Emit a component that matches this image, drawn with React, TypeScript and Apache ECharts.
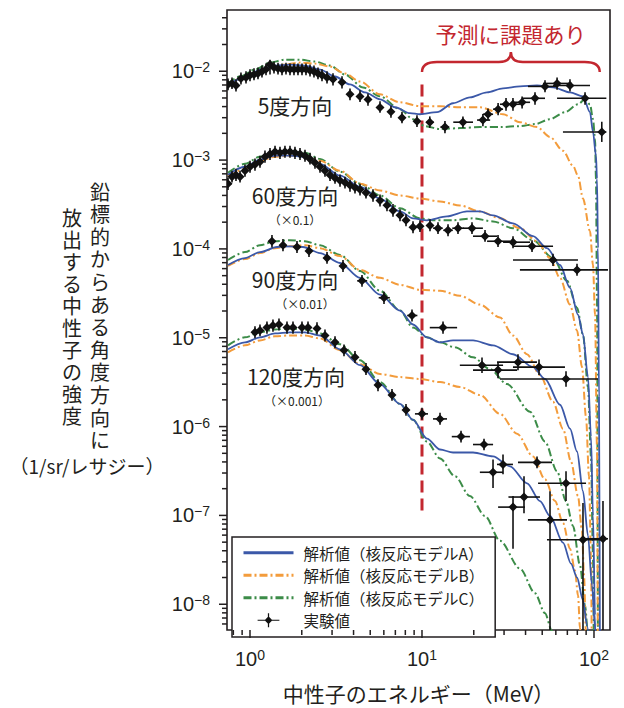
import React, { useEffect, useRef } from "react";
import * as echarts from "echarts";

type Pt = [number, number];
type ErrPt = [number, number, number, number, number, number]; // E, I, Elo, Ehi, Ilo, Ihi

// ---------- axis ranges / ticks ----------
const X_RANGE: Pt = [0.735, 123.9]; // MeV
const Y_RANGE: Pt = [5.13e-9, 4.89e-2];
const xTickExponents = [0, 1, 2];
const yTickExponents = [-8, -7, -6, -5, -4, -3, -2];
const minorTickMultipliers = [2, 3, 4, 5, 6, 7, 8, 9];

// ---------- texts ----------
const modelNames = ["解析値（核反応モデルA）", "解析値（核反応モデルB）", "解析値（核反応モデルC）"];
const expName = "実験値";
const groupLabels = ["5度方向", "60度方向", "90度方向", "120度方向"];
const scaleLabels = ["（×0.1）", "（×0.01）", "（×0.001）"];
const axisTitleX = "中性子のエネルギー（MeV）";
const axisTitleY1 = "鉛標的からある角度方向に";
const axisTitleY2 = "放出する中性子の強度";
const axisTitleY3 = "（1/sr/レサジー）";
const annotationText = "予測に課題あり";
const cutoffEnergy = 10;
const cutoffSpan: Pt = [7.1e-3, 1e-7];
const bracketSpan: Pt = [10, 108];

// ---------- model A (blue) ----------
const modelA_5deg: Pt[] = [
  [0.745, 7.1e-3], [0.875, 8.08e-3], [1.0, 9.19e-3], [1.143, 1.045e-2], [1.398, 1.158e-2], [1.708, 1.188e-2],
  [2.088, 1.158e-2], [2.553, 1.045e-2], [3.121, 8.73e-3], [3.814, 7.1e-3], [4.663, 5.78e-3], [5.7, 4.83e-3],
  [6.966, 3.93e-3], [8.515, 3.37e-3], [9.737, 3.28e-3], [12.23, 3.46e-3], [15.15, 4.36e-3], [19.01, 5.08e-3],
  [23.87, 5.78e-3], [29.58, 6.41e-3], [37.14, 6.75e-3], [46.64, 6.92e-3], [57.78, 6.58e-3], [72.53, 5.78e-3],
  [86.3, 5.22e-3], [94.78, 3.46e-3], [98.67, 2.07e-3], [102.7, 1.12e-3], [104.1, 6.17e-4], [105.5, 1.02e-4],
  [106.9, 2.16e-6], [108.4, 1e-9],
];
const modelA_60deg: Pt[] = [
  [0.745, 6.84e-4], [0.935, 8.41e-4], [1.143, 1.01e-3], [1.398, 1.12e-3], [1.708, 1.12e-3], [2.033, 1.09e-3],
  [2.553, 9.08e-4], [3.337, 6.67e-4], [4.361, 5.03e-4], [5.7, 3.69e-4], [7.45, 2.64e-4], [8.867, 2.21e-4],
  [10.69, 2.1e-4], [13.98, 2.32e-4], [18.26, 2.64e-4], [21.74, 2.64e-4], [25.88, 2.38e-4], [33.82, 1.94e-4],
  [44.21, 1.39e-4], [53.3, 1.02e-4], [63.44, 6.59e-5], [72.53, 3.65e-5], [80.73, 1.82e-5], [86.3, 1.09e-5],
  [92.29, 3.61e-6], [96.07, 7.71e-7], [98.67, 9.86e-8], [101.4, 7.54e-9], [102.7, 1e-9],
];
const modelA_90deg: Pt[] = [
  [0.745, 6.59e-5], [0.935, 7.89e-5], [1.143, 9.21e-5], [1.435, 1.05e-4], [1.708, 1.07e-4], [2.033, 1.05e-4],
  [2.553, 8.98e-5], [3.337, 6.94e-5], [4.361, 4.72e-5], [5.7, 3.05e-5], [7.45, 2.02e-5], [8.867, 1.41e-5],
  [10.69, 1.01e-5], [12.73, 8.87e-6], [15.15, 9.34e-6], [19.8, 9.34e-6], [25.88, 8.21e-6], [33.82, 6.52e-6],
  [44.21, 4.67e-6], [51.89, 3.43e-6], [63.44, 1.76e-6], [72.53, 9.47e-7], [79.66, 5.24e-7], [86.3, 1.87e-7],
  [92.29, 5.9e-8], [97.37, 1.63e-8], [101.4, 5.39e-9], [104.1, 1e-9],
];
const modelA_120deg: Pt[] = [
  [0.745, 7.41e-6], [0.935, 8.87e-6], [1.143, 1.01e-5], [1.398, 1.12e-5], [1.708, 1.15e-5], [2.088, 1.15e-5],
  [2.553, 1.06e-5], [3.337, 7.41e-6], [4.361, 4.91e-6], [5.7, 3.01e-6], [7.45, 1.8e-6], [8.867, 1.19e-6],
  [10.69, 7.32e-7], [12.73, 5.52e-7], [15.15, 5.11e-7], [19.8, 5.11e-7], [25.88, 4.61e-7], [32.48, 3.57e-7],
  [40.79, 2.3e-7], [48.53, 1.45e-7], [55.5, 9.86e-8], [66.04, 4.93e-8], [73.5, 2.87e-8], [79.66, 2.0e-8],
  [86.3, 1.11e-8], [91.08, 5.83e-9], [94.78, 2.7e-9],
];

// ---------- model B (orange) ----------
const modelB_5deg: Pt[] = [
  [0.745, 6.92e-3], [0.875, 8.08e-3], [1.069, 9.67e-3], [1.307, 1.1e-2], [1.597, 1.188e-2], [1.953, 1.251e-2],
  [2.387, 1.219e-2], [2.919, 1.128e-2], [3.567, 9.43e-3], [4.361, 7.67e-3], [5.7, 5.49e-3], [7.45, 4.47e-3],
  [9.737, 4.04e-3], [12.73, 4.04e-3], [16.63, 3.93e-3], [21.74, 3.93e-3], [29.58, 3.28e-3], [37.14, 2.67e-3],
  [46.64, 2.35e-3], [55.5, 1.82e-3], [66.04, 1.27e-3], [75.51, 8.63e-4], [80.73, 6.67e-4], [86.3, 3.69e-4],
  [94.78, 1.58e-4], [98.67, 6.59e-5], [101.4, 1.82e-5], [104.1, 5.97e-7], [105.5, 1e-9],
];
const modelB_60deg: Pt[] = [
  [0.745, 6.5e-4], [0.935, 7.99e-4], [1.143, 9.81e-4], [1.398, 1.09e-3], [1.708, 1.12e-3], [2.088, 1.12e-3],
  [2.553, 9.81e-4], [3.337, 7.59e-4], [4.361, 5.43e-4], [5.7, 4.54e-4], [7.45, 3.99e-4], [9.737, 3.69e-4],
  [12.73, 3.42e-4], [16.63, 3.08e-4], [21.74, 2.64e-4], [28.41, 2.21e-4], [37.14, 1.71e-4], [46.64, 1.22e-4],
  [55.5, 7.89e-5], [63.44, 4.72e-5], [72.53, 2.36e-5], [79.66, 1.21e-5], [85.17, 4.67e-6], [89.85, 1.29e-6],
  [93.53, 2.76e-7], [96.07, 3.52e-8], [97.37, 1e-9],
];
const modelB_90deg: Pt[] = [
  [0.745, 6.43e-5], [0.935, 7.69e-5], [1.143, 8.98e-5], [1.398, 1.02e-4], [1.708, 1.07e-4], [2.088, 1.1e-4],
  [2.553, 1.02e-4], [3.337, 8.31e-5], [4.361, 5.8e-5], [5.7, 4.72e-5], [7.45, 3.94e-5], [9.737, 3.47e-5],
  [12.73, 3.38e-5], [16.63, 2.97e-5], [21.74, 2.36e-5], [28.41, 1.69e-5], [33.82, 1.06e-5], [40.79, 6.52e-6],
  [48.53, 3.8e-6], [57.78, 1.9e-6], [66.04, 9.47e-7], [73.5, 4.05e-7], [80.73, 1.65e-7], [85.17, 6.7e-8],
  [87.5, 2.11e-8], [89.85, 4.6e-9], [91.08, 1e-9],
];
const modelB_120deg: Pt[] = [
  [0.745, 6.86e-6], [0.935, 8.21e-6], [1.143, 9.34e-6], [1.398, 1.04e-5], [1.708, 1.06e-5], [2.088, 1.06e-5],
  [2.553, 9.83e-6], [3.337, 7.22e-6], [4.361, 5.04e-6], [5.7, 3.9e-6], [7.45, 3.61e-6], [9.737, 3.43e-6],
  [12.73, 3.17e-6], [16.63, 2.79e-6], [21.74, 2.27e-6], [28.41, 1.39e-6], [35.68, 8.33e-7], [44.21, 4.61e-7],
  [51.89, 2.55e-7], [59.34, 1.45e-7], [66.04, 8.24e-8], [72.53, 4.22e-8], [77.55, 2.4e-8], [80.73, 1.26e-8],
  [82.93, 5.39e-9], [84.0, 2.0e-9],
];

// ---------- model C (green) ----------
const modelC_5deg: Pt[] = [
  [0.745, 7.29e-3], [0.875, 8.73e-3], [1.069, 1.045e-2], [1.307, 1.251e-2], [1.597, 1.351e-2], [1.953, 1.351e-2],
  [2.387, 1.283e-2], [2.919, 1.158e-2], [3.567, 9.19e-3], [4.539, 6.58e-3], [5.7, 5.22e-3], [7.45, 3.74e-3],
  [8.867, 2.89e-3], [10.41, 2.41e-3], [12.73, 2.23e-3], [16.63, 2.29e-3], [21.74, 2.35e-3], [28.41, 2.35e-3],
  [37.14, 2.41e-3], [45.4, 2.54e-3], [55.5, 2.89e-3], [67.83, 3.46e-3], [80.73, 4.25e-3], [88.66, 4.83e-3],
  [94.78, 4.25e-3], [98.67, 2.89e-3], [101.4, 1.73e-3], [102.7, 6.17e-4], [104.1, 2.82e-5], [105.5, 1e-9],
];
const modelC_60deg: Pt[] = [
  [0.745, 7.2e-4], [0.935, 9.08e-4], [1.143, 1.09e-3], [1.398, 1.21e-3], [1.708, 1.24e-3], [2.088, 1.21e-3],
  [2.553, 1.03e-3], [3.337, 7.39e-4], [4.361, 5.43e-4], [5.7, 3.99e-4], [7.45, 2.86e-4], [9.737, 2.21e-4],
  [11.59, 2.1e-4], [15.15, 2.1e-4], [19.8, 2.21e-4], [25.88, 2.04e-4], [33.82, 1.71e-4], [44.21, 1.25e-4],
  [57.78, 7.89e-5], [69.68, 4.37e-5], [79.66, 2.18e-5], [86.3, 1.09e-5], [92.29, 2.79e-6], [96.07, 4.61e-7],
  [98.67, 3.52e-8], [100.0, 1e-9],
];
const modelC_90deg: Pt[] = [
  [0.745, 7.5e-5], [0.935, 9.21e-5], [1.143, 1.1e-4], [1.398, 1.22e-4], [1.708, 1.25e-4], [2.088, 1.22e-4],
  [2.553, 1.1e-4], [3.337, 8.53e-5], [4.361, 5.65e-5], [5.7, 3.38e-5], [7.45, 2.02e-5], [8.867, 1.3e-5],
  [10.69, 1.01e-5], [12.73, 8.87e-6], [15.55, 7.8e-6], [19.8, 6.03e-6], [24.86, 4.43e-6], [31.21, 3.01e-6],
  [42.46, 1.47e-6], [51.89, 6.78e-7], [60.95, 3.14e-7], [68.76, 1.45e-7], [75.51, 7.62e-8], [82.93, 2.73e-8],
  [88.66, 9.74e-9], [92.29, 4.6e-9], [94.78, 1e-9],
];
const modelC_120deg: Pt[] = [
  [0.745, 8.21e-6], [0.935, 1.01e-5], [1.143, 1.15e-5], [1.398, 1.24e-5], [1.708, 1.27e-5], [2.088, 1.24e-5],
  [2.553, 1.12e-5], [3.337, 8.43e-6], [4.361, 5.59e-6], [5.7, 3.17e-6], [7.45, 1.8e-6], [8.867, 1.19e-6],
  [10.69, 6.78e-7], [12.73, 4.38e-7], [15.55, 2.76e-7], [19.01, 1.65e-7], [23.25, 9.86e-8], [28.41, 5.18e-8],
  [37.14, 2.52e-8], [45.4, 1.33e-8], [51.89, 7.93e-9], [57.0, 4.99e-9], [60.95, 3.3e-9],
];

// ---------- measurements: [E, I, Elo, Ehi, Ilo, Ihi] ----------
const exp5deg: ErrPt[] = [
  [0.745, 7.1e-3, 0.72, 0.78, 6.1e-3, 8.3e-3], [0.786, 7.3e-3, 0.76, 0.82, 6.3e-3, 8.5e-3],
  [0.829, 6.9e-3, 0.8, 0.86, 5.9e-3, 8.1e-3], [0.886, 8.3e-3, 0.85, 0.92, 7.1e-3, 9.7e-3],
  [0.948, 8.5e-3, 0.91, 0.99, 7.3e-3, 1.0e-2], [1.0, 9.0e-3, 0.96, 1.04, 7.7e-3, 1.05e-2],
  [1.055, 9.2e-3, 1.01, 1.1, 7.9e-3, 1.08e-2], [1.113, 9.4e-3, 1.07, 1.16, 8.1e-3, 1.1e-2],
  [1.174, 9.9e-3, 1.13, 1.22, 8.5e-3, 1.16e-2], [1.239, 1.05e-2, 1.19, 1.29, 9.0e-3, 1.22e-2],
  [1.307, 1.19e-2, 1.26, 1.36, 9.2e-3, 1.35e-2], [1.379, 1.1e-2, 1.33, 1.43, 9.4e-3, 1.29e-2],
  [1.455, 1.07e-2, 1.4, 1.51, 9.2e-3, 1.25e-2], [1.535, 1.05e-2, 1.48, 1.6, 9.0e-3, 1.22e-2],
  [1.619, 1.07e-2, 1.56, 1.68, 9.2e-3, 1.25e-2], [1.708, 1.05e-2, 1.64, 1.78, 9.0e-3, 1.22e-2],
  [1.802, 1.05e-2, 1.73, 1.87, 9.0e-3, 1.22e-2], [1.901, 1.05e-2, 1.83, 1.98, 9.0e-3, 1.22e-2],
  [2.006, 1.05e-2, 1.93, 2.09, 9.0e-3, 1.22e-2], [2.116, 1.05e-2, 2.03, 2.2, 9.0e-3, 1.22e-2],
  [2.233, 1.02e-2, 2.15, 2.32, 8.7e-3, 1.19e-2], [2.355, 9.9e-3, 2.26, 2.45, 8.5e-3, 1.16e-2],
  [2.485, 9.4e-3, 2.39, 2.58, 8.1e-3, 1.1e-2], [2.622, 9.0e-3, 2.52, 2.73, 7.7e-3, 1.05e-2],
  [2.804, 8.5e-3, 2.69, 2.92, 7.3e-3, 1.0e-2], [3.038, 8.1e-3, 2.92, 3.16, 6.9e-3, 9.5e-3],
  [3.427, 7.5e-3, 3.29, 3.56, 6.4e-3, 8.8e-3], [3.814, 5.5e-3, 3.66, 3.97, 4.7e-3, 6.4e-3],
  [4.361, 5.2e-3, 4.19, 4.54, 4.5e-3, 6.1e-3], [4.853, 4.8e-3, 4.66, 5.05, 4.1e-3, 5.6e-3],
  [5.7, 3.9e-3, 5.47, 5.93, 3.4e-3, 4.6e-3], [6.6, 3.5e-3, 6.34, 6.87, 3.0e-3, 4.1e-3],
  [7.65, 3.0e-3, 7.34, 7.96, 2.6e-3, 3.5e-3], [9.35, 2.74e-3, 8.98, 9.73, 2.35e-3, 3.2e-3],
  [11.1, 2.67e-3, 10.6, 11.7, 2.3e-3, 3.1e-3], [13.6, 2.35e-3, 12.8, 14.4, 2.0e-3, 2.75e-3],
  [17.3, 2.67e-3, 15.2, 19.8, 2.3e-3, 3.1e-3], [22.6, 2.82e-3, 20.9, 24.9, 2.4e-3, 3.3e-3],
  [24.2, 3.28e-3, 22.6, 25.9, 2.8e-3, 3.8e-3], [27.7, 3.74e-3, 25.9, 29.6, 3.2e-3, 4.4e-3],
  [30.8, 4.25e-3, 28.4, 33.8, 3.6e-3, 5.0e-3], [33.8, 4.25e-3, 31.2, 37.1, 3.6e-3, 5.0e-3],
  [38.2, 4.47e-3, 34.7, 42.5, 3.8e-3, 5.2e-3], [45.4, 4.96e-3, 38.2, 51.9, 4.2e-3, 5.8e-3],
  [51.9, 6.75e-3, 41.3, 61.0, 5.8e-3, 7.9e-3], [61.0, 7.29e-3, 50.5, 74.5, 6.2e-3, 8.5e-3],
  [72.5, 6.92e-3, 57.8, 94.8, 5.9e-3, 8.1e-3], [88.7, 4.96e-3, 61.0, 118, 4.2e-3, 5.8e-3],
  [111, 2.07e-3, 66.0, 118, 1.6e-3, 2.7e-3],
];
const exp60deg: ErrPt[] = [
  [0.745, 5.4e-4, 0.72, 0.78, 4.6e-4, 6.3e-4], [0.786, 6.5e-4, 0.76, 0.82, 5.6e-4, 7.6e-4],
  [0.829, 6.8e-4, 0.8, 0.86, 5.8e-4, 8.0e-4], [0.875, 6.5e-4, 0.84, 0.91, 5.6e-4, 7.6e-4],
  [0.935, 7.6e-4, 0.9, 0.97, 6.5e-4, 8.9e-4], [1.0, 8.4e-4, 0.96, 1.04, 7.2e-4, 9.8e-4],
  [1.069, 8.9e-4, 1.03, 1.11, 7.6e-4, 1.04e-3], [1.143, 9.6e-4, 1.1, 1.19, 8.2e-4, 1.12e-3],
  [1.222, 1.09e-3, 1.17, 1.27, 9.3e-4, 1.28e-3], [1.307, 1.17e-3, 1.26, 1.36, 1.0e-3, 1.37e-3],
  [1.398, 1.24e-3, 1.34, 1.45, 1.06e-3, 1.45e-3], [1.494, 1.21e-3, 1.43, 1.55, 1.03e-3, 1.41e-3],
  [1.597, 1.24e-3, 1.53, 1.66, 1.06e-3, 1.45e-3], [1.708, 1.24e-3, 1.64, 1.78, 1.06e-3, 1.45e-3],
  [1.826, 1.21e-3, 1.75, 1.9, 1.03e-3, 1.41e-3], [1.953, 1.17e-3, 1.87, 2.03, 1.0e-3, 1.37e-3],
  [2.088, 1.12e-3, 2.0, 2.17, 9.6e-4, 1.31e-3], [2.233, 1.03e-3, 2.14, 2.32, 8.9e-4, 1.21e-3],
  [2.387, 9.3e-4, 2.29, 2.48, 8.0e-4, 1.09e-3], [2.553, 8.4e-4, 2.45, 2.66, 7.2e-4, 9.8e-4],
  [2.729, 7.6e-4, 2.62, 2.84, 6.5e-4, 8.9e-4], [2.919, 6.8e-4, 2.8, 3.04, 5.8e-4, 8.0e-4],
  [3.121, 6.3e-4, 3.0, 3.25, 5.4e-4, 7.4e-4], [3.337, 5.9e-4, 3.2, 3.47, 5.0e-4, 6.9e-4],
  [3.567, 5.6e-4, 3.42, 3.71, 4.8e-4, 6.5e-4], [3.814, 5.2e-4, 3.66, 3.97, 4.4e-4, 6.0e-4],
  [4.078, 4.9e-4, 3.91, 4.24, 4.2e-4, 5.7e-4], [4.361, 4.65e-4, 4.19, 4.54, 4.0e-4, 5.4e-4],
  [4.725, 4.3e-4, 4.54, 4.91, 3.7e-4, 5.0e-4], [5.19, 4.0e-4, 4.98, 5.4, 3.4e-4, 4.7e-4],
  [5.7, 3.5e-4, 5.47, 5.93, 3.0e-4, 4.1e-4], [6.259, 3.1e-4, 6.01, 6.51, 2.65e-4, 3.6e-4],
  [6.783, 2.7e-4, 6.51, 7.05, 2.3e-4, 3.2e-4], [7.45, 2.4e-4, 7.15, 7.75, 2.05e-4, 2.8e-4],
  [8.072, 2.1e-4, 7.75, 8.39, 1.8e-4, 2.46e-4], [8.867, 1.75e-4, 8.51, 9.22, 1.5e-4, 2.05e-4],
  [9.737, 1.8e-4, 9.35, 10.1, 1.55e-4, 2.1e-4], [11.13, 1.84e-4, 10.7, 11.6, 1.58e-4, 2.15e-4],
  [12.39, 1.71e-4, 11.6, 13.2, 1.47e-4, 2.0e-4], [14.17, 1.62e-4, 13.3, 15.1, 1.39e-4, 1.9e-4],
  [16.19, 1.71e-4, 15.0, 17.5, 1.47e-4, 2.0e-4], [19.53, 1.71e-4, 17.3, 22.6, 1.47e-4, 2.0e-4],
  [23.25, 1.39e-4, 19.8, 27.3, 1.2e-4, 1.63e-4], [27.67, 1.22e-4, 23.9, 32.5, 1.05e-4, 1.43e-4],
  [33.82, 1.19e-4, 29.6, 42.5, 1.02e-4, 1.39e-4], [43.62, 1.07e-4, 33.8, 57.8, 9.2e-5, 1.25e-4],
  [57.78, 7.5e-5, 33.8, 80.7, 6.4e-5, 8.8e-5], [79.66, 5.8e-5, 37.1, 120.6, 5.0e-5, 6.8e-5],
];
const exp90deg: ErrPt[] = [
  [1.342, 1.22e-4, 1.29, 1.39, 1.04e-4, 1.43e-4], [1.555, 1.1e-4, 1.49, 1.62, 9.4e-5, 1.29e-4],
  [1.876, 1.05e-4, 1.8, 1.95, 9.0e-5, 1.23e-4], [2.203, 9.45e-5, 2.12, 2.29, 8.1e-5, 1.11e-4],
  [2.804, 7.89e-5, 2.69, 2.92, 6.8e-5, 9.2e-5], [3.473, 6.43e-5, 3.33, 3.61, 5.5e-5, 7.5e-5],
  [4.479, 4.37e-5, 4.2, 4.8, 3.75e-5, 5.1e-5], [6.013, 2.82e-5, 5.6, 6.5, 2.4e-5, 3.3e-5],
  [8.747, 1.78e-5, 8.2, 9.4, 1.52e-5, 2.08e-5], [13.25, 1.3e-5, 11.1, 16.0, 1.11e-5, 1.52e-5],
  [22.33, 4.91e-6, 16.6, 29.6, 4.0e-6, 6.0e-6], [27.67, 4.32e-6, 19.8, 35.7, 3.5e-6, 5.3e-6],
  [36.15, 5.31e-6, 27.3, 46.6, 4.3e-6, 6.5e-6], [47.9, 4.67e-6, 33.8, 67.8, 3.8e-6, 5.7e-6],
  [68.76, 3.43e-6, 28.4, 105.5, 2.8e-6, 4.2e-6],
];
const exp120deg: ErrPt[] = [
  [1.069, 1.15e-5, 1.03, 1.11, 9.9e-6, 1.35e-5], [1.143, 1.21e-5, 1.1, 1.19, 1.04e-5, 1.41e-5],
  [1.255, 1.3e-5, 1.21, 1.31, 1.11e-5, 1.52e-5], [1.36, 1.37e-5, 1.31, 1.41, 1.17e-5, 1.6e-5],
  [1.474, 1.41e-5, 1.42, 1.53, 1.21e-5, 1.65e-5], [1.641, 1.3e-5, 1.58, 1.71, 1.11e-5, 1.52e-5],
  [1.778, 1.3e-5, 1.71, 1.85, 1.11e-5, 1.52e-5], [2.006, 1.3e-5, 1.93, 2.09, 1.11e-5, 1.52e-5],
  [2.174, 1.3e-5, 2.09, 2.26, 1.11e-5, 1.52e-5], [2.452, 1.27e-5, 2.36, 2.55, 1.09e-5, 1.49e-5],
  [2.729, 1.06e-5, 2.62, 2.84, 9.1e-6, 1.24e-5], [3.121, 8.87e-6, 3.0, 3.25, 7.6e-6, 1.04e-5],
  [3.52, 7.22e-6, 3.38, 3.66, 6.2e-6, 8.4e-6], [4.078, 6.03e-6, 3.92, 4.24, 5.2e-6, 7.1e-6],
  [4.725, 4.43e-6, 4.54, 4.92, 3.8e-6, 5.2e-6], [5.549, 2.94e-6, 5.33, 5.78, 2.5e-6, 3.4e-6],
  [6.692, 2.27e-6, 6.43, 6.97, 1.95e-6, 2.65e-6], [8.072, 1.54e-6, 7.75, 8.41, 1.32e-6, 1.8e-6],
  [10.0, 1.39e-6, 9.1, 10.84, 1.19e-6, 1.63e-6], [12.73, 1.22e-6, 11.59, 13.98, 1.05e-6, 1.43e-6],
  [16.86, 7.71e-7, 14.9, 19.0, 6.6e-7, 9.0e-7], [22.94, 6.28e-7, 19.8, 25.9, 5.4e-7, 7.3e-7],
  [25.88, 3.06e-7, 21.7, 29.6, 2.03e-7, 4.27e-7], [29.58, 3.75e-7, 27.3, 33.8, 2.9e-7, 4.86e-7],
  [46.64, 3.95e-7, 36.15, 57.0, 3.4e-7, 4.6e-7], [68.76, 2.3e-7, 47.3, 89.9, 1.45e-7, 3.14e-7],
  [39.18, 1.61e-7, 31.8, 48.5, 1.06e-7, 2.76e-7], [33.82, 1.24e-7, 27.7, 39.7, 4.22e-8, 1.65e-7],
  [55.5, 8.9e-8, 41.3, 69.7, 1e-9, 1.87e-7], [86.3, 5.32e-8, 53.3, 112.8, 1e-9, 1.38e-7],
  [112.8, 5.46e-8, 86.3, 120.6, 1e-9, 1.45e-7],
];

// ---------- styles ----------
const FONT_JP = "'Noto Sans CJK JP', 'Noto Sans', sans-serif";
const FONT_NUM = "'Liberation Sans', Arial, Helvetica, sans-serif";
const TEXT = "#231f20";
const RED = "#c3272f";
const modelStyles = [
  { color: "#3b58a8", width: 1.8, type: "solid" as any },
  { color: "#f39c3c", width: 2, type: [8, 3, 2, 3] as any },
  { color: "#3c8c48", width: 2, type: [8, 3, 2, 3] as any },
];

const curvesByModel: Pt[][][] = [
  [modelA_5deg, modelA_60deg, modelA_90deg, modelA_120deg],
  [modelB_5deg, modelB_60deg, modelB_90deg, modelB_120deg],
  [modelC_5deg, modelC_60deg, modelC_90deg, modelC_120deg],
];

const lg = (v: number) => Math.log10(v);
const logPts = (pts: number[][]) => pts.map((p) => p.map((v) => Math.log10(v)));

function buildOption(): any {
  const xMin = lg(X_RANGE[0]);
  const xMax = lg(X_RANGE[1]);
  const yMin = lg(Y_RANGE[0]);
  const yMax = lg(Y_RANGE[1]);

  const ticks: number[][] = [];
  xTickExponents.forEach((e) => ticks.push([e, yMin, 0, 1]));
  for (let e = Math.floor(xMin); e < Math.ceil(xMax); e++)
    minorTickMultipliers.forEach((m) => {
      const v = e + lg(m);
      if (v > xMin && v < xMax) ticks.push([v, yMin, 0, 0]);
    });
  yTickExponents.forEach((e) => ticks.push([xMin, e, 1, 1]));
  for (let e = Math.floor(yMin); e < Math.ceil(yMax); e++)
    minorTickMultipliers.forEach((m) => {
      const v = e + lg(m);
      if (v > yMin && v < yMax) ticks.push([xMin, v, 1, 0]);
    });

  const rich = {
    b: { fontSize: 20, fontFamily: FONT_NUM, color: TEXT, lineHeight: 22 },
    s: { fontSize: 14, fontFamily: FONT_NUM, color: TEXT, lineHeight: 10, verticalAlign: "top" },
  };
  const expLabel = (v: number) => {
    const r = Math.round(v);
    if (Math.abs(v - r) > 1e-6) return "";
    return `{b|10}{s|${r < 0 ? "\u2212" + -r : r}}`;
  };

  const lineSeries: any[] = [];
  [2, 1, 0].forEach((mi) => {
    curvesByModel[mi].forEach((c) => {
      lineSeries.push({
        type: "line",
        name: modelNames[mi],
        data: logPts(c),
        symbol: "none",
        showSymbol: false,
        smooth: 0.3,
        smoothMonotone: "x",
        clip: true,
        silent: true,
        lineStyle: { color: modelStyles[mi].color, width: modelStyles[mi].width, type: modelStyles[mi].type },
        itemStyle: { color: modelStyles[mi].color },
        z: 3,
      });
    });
  });

  const allExp = [...exp5deg, ...exp60deg, ...exp90deg, ...exp120deg];
  const hiddenMarker = { color: "rgba(0,0,0,0)", borderColor: "rgba(0,0,0,0)", borderWidth: 0 };

  return {
    animation: false,
    backgroundColor: "#fff",
    grid: { left: 227, top: 10, right: 14, bottom: 73, show: true, borderColor: TEXT, borderWidth: 1.6 },
    xAxis: {
      type: "value",
      min: xMin,
      max: xMax,
      splitNumber: 2,
      axisLine: { show: false },
      axisTick: { show: false },
      splitLine: { show: false },
      axisLabel: { margin: 18, formatter: expLabel, rich },
      name: axisTitleX,
      nameLocation: "middle",
      nameGap: 52,
      nameTextStyle: { fontFamily: FONT_JP, fontSize: 21, color: TEXT },
    },
    yAxis: {
      type: "value",
      min: yMin,
      max: yMax,
      splitNumber: 7,
      axisLine: { show: false },
      axisTick: { show: false },
      splitLine: { show: false },
      axisLabel: { margin: 17, formatter: expLabel, rich },
    },
    legend: {
      left: 232,
      top: 537,
      orient: "vertical",
      itemWidth: 50,
      itemHeight: 14,
      itemGap: 7,
      padding: [8, 11, 9, 10],
      borderColor: TEXT,
      borderWidth: 1.5,
      backgroundColor: "#fff",
      selectedMode: false,
      lineStyle: { width: 3 },
      textStyle: { fontFamily: FONT_JP, fontSize: 15.5, color: TEXT, lineHeight: 14, padding: [0, 0, 0, 5] },
      data: [
        { name: modelNames[0], itemStyle: hiddenMarker },
        { name: modelNames[1], itemStyle: hiddenMarker },
        { name: modelNames[2], itemStyle: hiddenMarker },
        { name: expName, icon: "path://M0,8.2H28V9.8H0Z M13.2,0H14.8V18H13.2Z M14,4L19,9L14,14L9,9Z" },
      ],
    },
    series: [
      {
        type: "line",
        name: "cutoff",
        data: [
          [lg(cutoffEnergy), lg(cutoffSpan[0])],
          [lg(cutoffEnergy), lg(cutoffSpan[1])],
        ],
        symbol: "none",
        silent: true,
        lineStyle: { color: RED, width: 3, type: [12, 6] },
        z: 2,
      },
      ...lineSeries,
      {
        type: "custom",
        name: expName,
        coordinateSystem: "cartesian2d",
        clip: true,
        silent: true,
        itemStyle: { color: "#111" },
        data: logPts(allExp),
        encode: { x: 0, y: 1 },
        z: 4,
        renderItem: (_p: any, api: any) => {
          const c = api.coord([api.value(0), api.value(1)]);
          const l = api.coord([api.value(2), api.value(1)]);
          const r = api.coord([api.value(3), api.value(1)]);
          const b = api.coord([api.value(0), api.value(4)]);
          const t = api.coord([api.value(0), api.value(5)]);
          const s = 4.5;
          const st = { stroke: "#111", lineWidth: 1.6 };
          return {
            type: "group",
            children: [
              { type: "line", shape: { x1: l[0], y1: c[1], x2: r[0], y2: c[1] }, style: st },
              { type: "line", shape: { x1: c[0], y1: t[1], x2: c[0], y2: b[1] }, style: st },
              {
                type: "polygon",
                shape: { points: [[c[0], c[1] - s], [c[0] + s, c[1]], [c[0], c[1] + s], [c[0] - s, c[1]]] },
                style: { fill: "#111" },
              },
            ],
          };
        },
      },
      {
        type: "custom",
        name: "ticks",
        coordinateSystem: "cartesian2d",
        clip: false,
        silent: true,
        data: ticks,
        encode: { x: 0, y: 1 },
        z: 6,
        renderItem: (_p: any, api: any) => {
          const p = api.coord([api.value(0), api.value(1)]);
          const isY = api.value(2) === 1;
          const len = api.value(3) === 1 ? 8 : 5;
          return {
            type: "line",
            shape: isY
              ? { x1: p[0] - len, y1: p[1], x2: p[0], y2: p[1] }
              : { x1: p[0], y1: p[1], x2: p[0], y2: p[1] + len },
            style: { stroke: TEXT, lineWidth: 1.5 },
          };
        },
      },
    ],
  };
}

function txt(text: string, x: number, y: number, size: number, extra: any = {}) {
  return {
    type: "text",
    x,
    y,
    silent: true,
    z: 10,
    style: {
      text,
      fontFamily: FONT_JP,
      fontSize: size,
      fill: TEXT,
      align: "center",
      verticalAlign: "middle",
      ...extra,
    },
  };
}

export default function App() {
  const ref = useRef<HTMLDivElement>(null);
  useEffect(() => {
    if (!ref.current) return;
    const chart = echarts.init(ref.current, null, { renderer: "svg" });
    chart.setOption(buildOption());

    const xl = chart.convertToPixel({ xAxisIndex: 0 }, lg(bracketSpan[0])) as number;
    const xr = chart.convertToPixel({ xAxisIndex: 0 }, lg(bracketSpan[1])) as number;
    const W = xr - xl;
    const h = W / 2;
    const d = `M0,20 Q0,10 15,10 L${h - 12},10 Q${h},10 ${h},0 Q${h},10 ${h + 12},10 L${W - 15},10 Q${W},10 ${W},20`;
    echarts.graphic.registerShape("bracket", echarts.graphic.extendPath(d, {}) as any);

    // vertical (tategaki) axis title: one text element per character
    const col1 = axisTitleY1.split("").map((ch, i) => txt(ch, 100, 191 + i * 22.6, 20));
    const col2 = axisTitleY2.split("").map((ch, i) => txt(ch, 72, 217 + i * 22.1, 20));

    const graphics: any[] = [
      txt(groupLabels[0], 295, 105, 21),
      txt(groupLabels[1], 295, 195, 21),
      txt(scaleLabels[0], 295, 219.5, 12),
      txt(groupLabels[2], 295, 279, 21),
      txt(scaleLabels[1], 305, 303.5, 12),
      txt(groupLabels[3], 296, 376, 21),
      txt(scaleLabels[2], 297, 400.5, 12),
      ...col1,
      ...col2,
      txt(axisTitleY3, 87, 465, 19),
      txt(annotationText, (xl + xr) / 2, 33, 21.5, { fill: RED }),
      {
        type: "bracket",
        x: xl,
        y: 52,
        silent: true,
        z: 10,
        style: { stroke: RED, fill: "none", lineWidth: 2.5 },
      },
    ];
    chart.setOption({ graphic: graphics });
    return () => chart.dispose();
  }, []);
  return (
    <div
      ref={ref}
      style={{ position: "fixed", left: 0, top: 0, width: 624, height: 708, background: "#fff" }}
    />
  );
}
